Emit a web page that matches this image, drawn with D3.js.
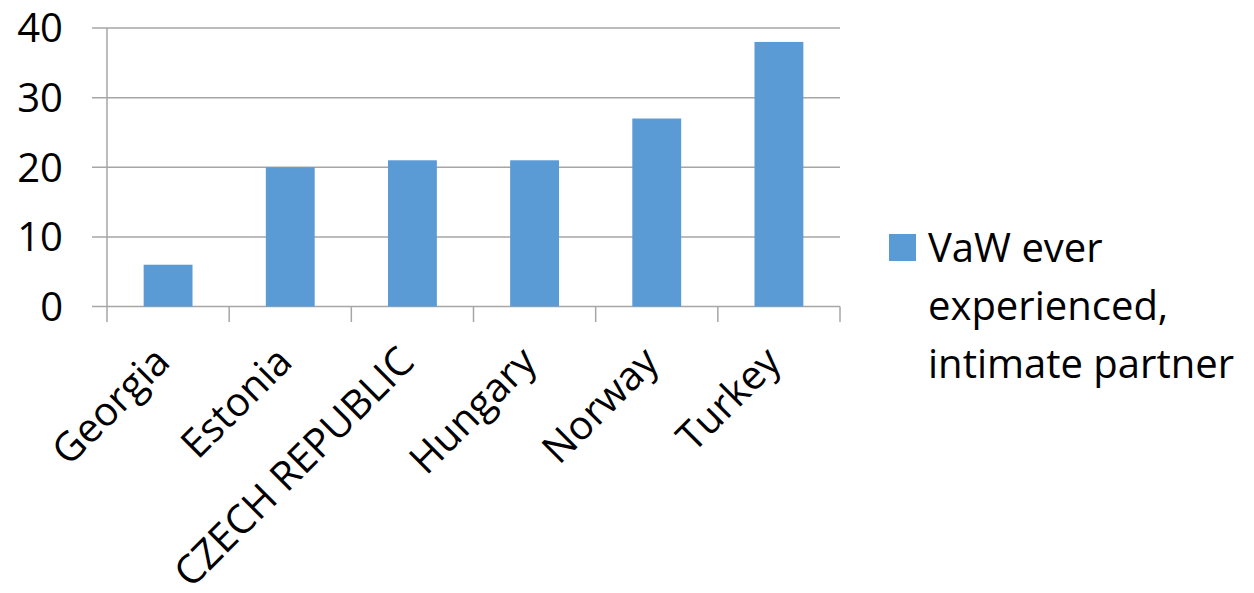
<!DOCTYPE html>
<html>
<head>
<meta charset="utf-8">
<script src="https://cdn.jsdelivr.net/npm/d3@7"></script>
<style>
  body { margin: 0; background: #fff; }
  text { font-family: "Open Sans", sans-serif; fill: #000; }
</style>
</head>
<body>
<svg width="1254" height="593"></svg>
<script>
const countries = ['Georgia', 'Estonia', 'CZECH REPUBLIC', 'Hungary', 'Norway', 'Turkey'];
const values = [6, 20, 21, 21, 27, 38];
const yTicks = [0, 10, 20, 30, 40];
const seriesName = ['VaW ever', 'experienced,', 'intimate partner'];

const svg = d3.select('svg');

const x = d3.scaleBand()
  .domain(countries)
  .range([107, 840])
  .paddingInner(0.6)
  .paddingOuter(0.3);

const xEdge = d3.scaleLinear()
  .domain([0, countries.length])
  .range([107, 840]);

const y = d3.scaleLinear()
  .domain([0, 40])
  .range([306.5, 28]);

// gridlines
svg.append('g')
  .selectAll('line')
  .data(yTicks)
  .enter()
  .append('line')
  .attr('x1', 92)
  .attr('x2', 840)
  .attr('y1', d => y(d))
  .attr('y2', d => y(d))
  .style('stroke', '#a6a6a6')
  .style('stroke-width', 1.5);

// y labels
svg.append('g')
  .selectAll('text')
  .data(yTicks)
  .enter()
  .append('text')
  .attr('x', 63)
  .attr('y', d => y(d))
  .attr('dy', '0.36em')
  .attr('text-anchor', 'end')
  .style('font-size', '40px')
  .text(d => d);

// bars
svg.append('g')
  .selectAll('rect')
  .data(countries)
  .enter()
  .append('rect')
  .attr('x', d => x(d))
  .attr('width', x.bandwidth())
  .attr('y', (d, i) => y(values[i]))
  .attr('height', (d, i) => y(0) - y(values[i]))
  .style('fill', '#5b9bd5');

// y axis line
svg.append('line')
  .attr('x1', 107).attr('x2', 107)
  .attr('y1', y(40)).attr('y2', 322)
  .style('stroke', '#a6a6a6')
  .style('stroke-width', 1.5);

// x ticks
svg.append('g')
  .selectAll('line')
  .data(d3.range(1, countries.length + 1))
  .enter()
  .append('line')
  .attr('x1', d => xEdge(d))
  .attr('x2', d => xEdge(d))
  .attr('y1', y(0))
  .attr('y2', 322)
  .style('stroke', '#a6a6a6')
  .style('stroke-width', 1.5);

// x labels
svg.append('g')
  .selectAll('text')
  .data(countries)
  .enter()
  .append('text')
  .attr('transform', d => 'translate(' + (x(d) + x.bandwidth() / 2 + 4) + ',' + 364 + ') rotate(-45)')
  .attr('text-anchor', 'end')
  .style('font-size', '40px')
  .text(d => d);

// legend
const legend = svg.append('g');
legend.append('rect')
  .attr('x', 889)
  .attr('y', 234)
  .attr('width', 27)
  .attr('height', 27)
  .style('fill', '#5b9bd5');

legend.selectAll('text')
  .data(seriesName)
  .enter()
  .append('text')
  .attr('x', 928)
  .attr('y', (d, i) => 262 + i * 58)
  .style('font-size', '40px')
  .text(d => d);
</script>
</body>
</html>
